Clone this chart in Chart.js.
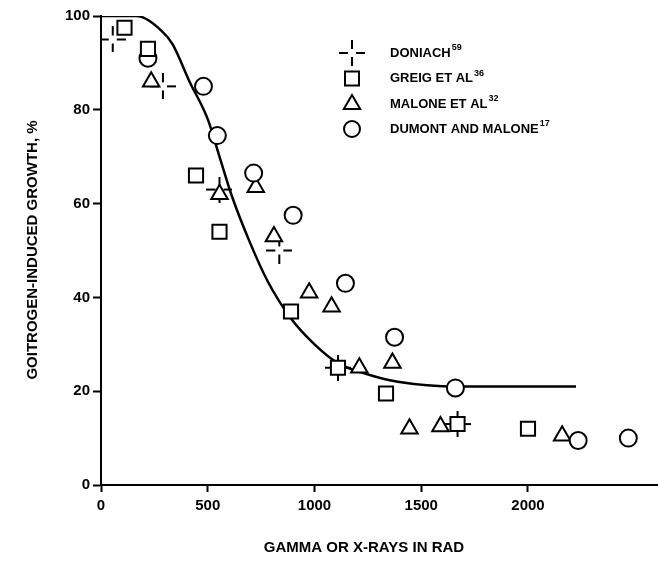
<!DOCTYPE html>
<html>
<head>
<meta charset="utf-8">
<script src="https://cdn.jsdelivr.net/npm/chart.js@4"></script>
<style>
  html, body { margin: 0; padding: 0; background: #fff; }
  #wrap { width: 658px; height: 575px; }
</style>
</head>
<body>
<div id="wrap"><canvas id="chart"></canvas></div>
<script>
// values (against its printed axis ticks)
const doniachX = [55, 290, 555, 835, 1110, 1670];
const doniachY = [95, 85, 63, 50, 25, 13];
const greigX = [110, 220, 445, 555, 890, 1110, 1335, 1670, 2000];
const greigY = [97.5, 93, 66, 54, 37, 25, 19.5, 13, 12];
const maloneX = [235, 555, 725, 810, 975, 1080, 1210, 1365, 1445, 1590, 2160];
const maloneY = [86, 62, 63.5, 53, 41, 38, 25, 26, 12, 12.5, 10.5];
const dumontX = [220, 480, 545, 715, 900, 1145, 1375, 1660, 2235, 2470];
const dumontY = [91, 85, 74.5, 66.5, 57.5, 43, 31.5, 20.7, 9.5, 10];
const curveX = [0, 165, 280, 335, 415, 500, 555, 610, 695, 780, 890, 1000, 1110, 1255, 1390, 1670, 2225];
const curveY = [100, 100, 97, 94, 86, 78, 70, 62, 52, 43.5, 35.5, 30, 26, 23.5, 22, 21, 21];
const xTicks = [0, 500, 1000, 1500, 2000];
const yTicks = [0, 20, 40, 60, 80, 100];
const legendNames = ['DONIACH', 'GREIG ET AL', 'MALONE ET AL', 'DUMONT AND MALONE'];
const legendRefs = ['59', '36', '32', '17'];

const FONT = "'Liberation Sans', Arial, sans-serif";

const pts = (xs, ys) => xs.map((x, i) => ({ x, y: ys[i] }));

// broken cross used by Doniach
function makeCross() {
  const c = document.createElement('canvas');
  c.width = 26; c.height = 26;
  const g = c.getContext('2d');
  g.strokeStyle = '#000';
  g.lineWidth = 2;
  g.beginPath();
  g.moveTo(0, 13); g.lineTo(9, 13); g.moveTo(17, 13); g.lineTo(26, 13);
  g.moveTo(13, 0); g.lineTo(13, 9); g.moveTo(13, 17); g.lineTo(13, 26);
  g.stroke();
  return c;
}
const crossImg = makeCross();

const marker = {
  showLine: false,
  borderColor: '#000',
  backgroundColor: '#fff',
  pointBorderColor: '#000',
  pointBackgroundColor: '#fff',
  pointBorderWidth: 2,
};

const legendPlugin = {
  id: 'figLegend',
  afterDraw(chart) {
    const ctx = chart.ctx;
    const mx = 352, tx = 390;
    const rows = [53, 78.5, 104, 129];
    ctx.save();
    ctx.strokeStyle = '#000';
    ctx.fillStyle = '#000';
    ctx.lineWidth = 2;
    // markers
    ctx.drawImage(crossImg, mx - 13, rows[0] - 13);
    ctx.strokeRect(mx - 7, rows[1] - 7, 14, 14);
    ctx.beginPath();
    ctx.moveTo(mx, rows[2] - 9);
    ctx.lineTo(mx + 8.2, rows[2] + 5);
    ctx.lineTo(mx - 8.2, rows[2] + 5);
    ctx.closePath();
    ctx.stroke();
    ctx.beginPath();
    ctx.arc(mx, rows[3], 8, 0, Math.PI * 2);
    ctx.stroke();
    // text with superscripts
    ctx.textBaseline = 'middle';
    ctx.textAlign = 'left';
    legendNames.forEach((name, i) => {
      ctx.font = 'bold 13px ' + FONT;
      ctx.fillText(name, tx, rows[i]);
      const w = ctx.measureText(name).width;
      ctx.font = 'bold 9px ' + FONT;
      ctx.fillText(legendRefs[i], tx + w + 1, rows[i] - 5);
    });
    ctx.restore();
  }
};

const titlePlugin = {
  id: 'axisTitles',
  afterDraw(chart) {
    const ctx = chart.ctx;
    ctx.save();
    ctx.fillStyle = '#000';
    ctx.font = 'bold 15px ' + FONT;
    ctx.textAlign = 'center';
    ctx.textBaseline = 'middle';
    ctx.fillText('GAMMA OR X-RAYS IN RAD', 364, 548);
    ctx.translate(33, 250);
    ctx.rotate(-Math.PI / 2);
    ctx.fillText('GOITROGEN-INDUCED GROWTH, %', 0, 0);
    ctx.restore();
  }
};

const axisStyle = {
  border: { display: true, color: '#000', width: 2 },
  grid: {
    display: true,
    drawOnChartArea: false,
    drawTicks: true,
    color: '#000',
    tickColor: '#000',
    tickWidth: 2,
  },
  ticks: {
    color: '#000',
    font: { family: FONT, size: 15, weight: 'bold' },
    callback: v => String(v),
  },
};

new Chart(document.getElementById('chart'), {
  type: 'scatter',
  data: {
    datasets: [
      { label: 'DONIACH', data: pts(doniachX, doniachY), pointStyle: crossImg, pointRadius: 12, order: 4, ...marker },
      { label: 'GREIG ET AL', data: pts(greigX, greigY), pointStyle: 'rect', pointRadius: 10, order: 1, ...marker },
      { label: 'MALONE ET AL', data: pts(maloneX, maloneY), pointStyle: 'triangle', pointRadius: 9.5, order: 3, ...marker },
      { label: 'DUMONT AND MALONE', data: pts(dumontX, dumontY), pointStyle: 'circle', pointRadius: 8.5, order: 2, ...marker },
      {
        type: 'line',
        label: 'fit',
        data: pts(curveX, curveY),
        borderColor: '#000',
        borderWidth: 2.5,
        pointRadius: 0,
        fill: false,
        cubicInterpolationMode: 'monotone',
        order: 5,
      },
    ],
  },
  options: {
    responsive: true,
    maintainAspectRatio: false,
    animation: false,
    layout: { autoPadding: false, padding: { top: 16, right: 0, bottom: 0, left: 0 } },
    plugins: { legend: { display: false }, tooltip: { enabled: false } },
    scales: {
      x: {
        type: 'linear',
        min: 0,
        max: 2609,
        ...axisStyle,
        grid: { ...axisStyle.grid, tickLength: 7 },
        ticks: { ...axisStyle.ticks, padding: 5, maxRotation: 0 },
        afterBuildTicks: s => { s.ticks = xTicks.map(v => ({ value: v })); },
        afterFit: s => { s.height = 90; s.paddingLeft = 0; s.paddingRight = 0; },
      },
      y: {
        type: 'linear',
        min: 0,
        max: 100,
        ...axisStyle,
        grid: { ...axisStyle.grid, tickLength: 8 },
        ticks: { ...axisStyle.ticks, padding: 3 },
        afterBuildTicks: s => { s.ticks = yTicks.map(v => ({ value: v })); },
        afterFit: s => { s.width = 101; },
      },
    },
  },
  plugins: [legendPlugin, titlePlugin],
});
</script>
</body>
</html>
